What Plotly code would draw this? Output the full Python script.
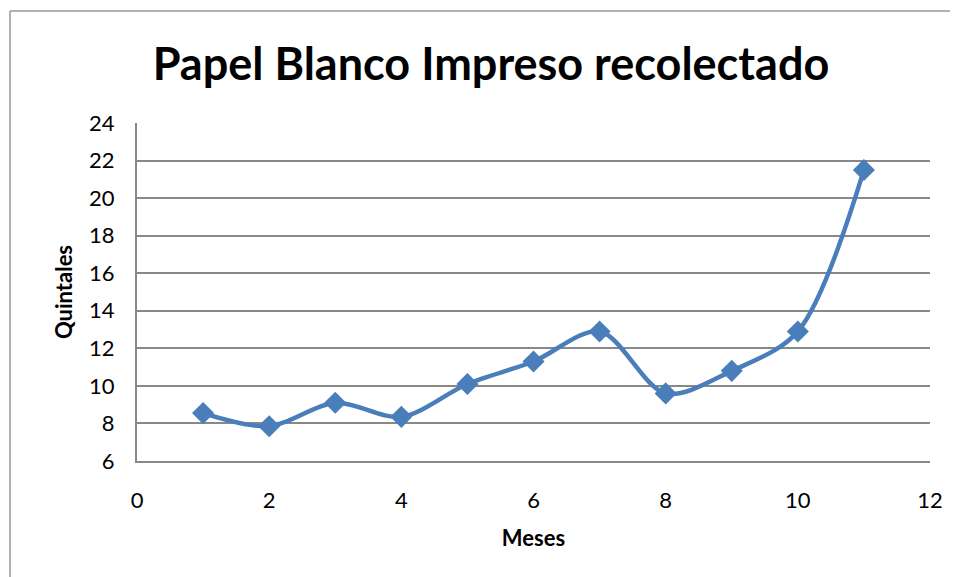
import plotly.graph_objects as go

meses = [1, 2, 3, 4, 5, 6, 7, 8, 9, 10, 11]
quintales = [8.55, 7.85, 9.1, 8.35, 10.1, 11.3, 12.9, 9.6, 10.8, 12.9, 21.5]
y_ticks = [6, 8, 10, 12, 14, 16, 18, 20, 22, 24]
x_ticks = [0, 2, 4, 6, 8, 10, 12]

# page has an 8px body margin; work in page coordinates and offset
OFF = 8
W, H = 958 - OFF, 577 - OFF
L, R, T, B = 137 - OFF, 28, 123 - OFF, 116
pw, ph = W - L - R, H - T - B


def px(x):
    return (x - OFF - L) / pw


def py(y):
    return 1 - (y - OFF - T) / ph


FONT = "Lato, Calibri, sans-serif"
COL = "#4a7ebb"

fig = go.Figure(go.Scatter(
    x=meses, y=quintales, mode="lines+markers",
    line=dict(color=COL, width=4.5, shape="spline", smoothing=0.9),
    marker=dict(symbol="diamond", size=17, color=COL, line=dict(width=0)),
    showlegend=False,
))

fig.update_layout(
    width=W, height=H,
    margin=dict(l=L, r=R, t=T, b=B),
    paper_bgcolor="white", plot_bgcolor="white",
    title=dict(text="<b>Papel Blanco Impreso recolectado</b>",
               x=(491 - OFF) / W, xref="container", xanchor="center",
               y=1 - (64 - OFF) / H, yref="container", yanchor="middle",
               font=dict(family=FONT, size=45, color="black")),
    xaxis=dict(range=[0, 12], tickvals=x_ticks, showgrid=False,
               showline=True, linecolor="#888888", linewidth=2,
               ticks="", zeroline=False, ticklabelstandoff=19,
               tickfont=dict(family=FONT, size=22, color="black"),
               title=dict(text="<b>Meses</b>", standoff=18,
                          font=dict(family=FONT, size=22, color="black"))),
    yaxis=dict(range=[6, 24], tickvals=y_ticks, showgrid=True,
               gridcolor="#888888", gridwidth=1.5,
               showline=True, linecolor="#888888", linewidth=2,
               ticks="", zeroline=False, ticklabelstandoff=16,
               tickfont=dict(family=FONT, size=22, color="black"),
               title=dict(text="<b>Quintales</b>", standoff=10,
                          font=dict(family=FONT, size=22, color="black"))),
    shapes=[
        dict(type="line", xref="paper", yref="paper",
             x0=px(10), x1=px(10), y0=py(11), y1=py(600),
             line=dict(color="#999999", width=1.5)),
        dict(type="line", xref="paper", yref="paper",
             x0=px(10), x1=px(970), y0=py(11), y1=py(11),
             line=dict(color="#999999", width=1.5)),
    ],
)

fig.write_html("out.html")
